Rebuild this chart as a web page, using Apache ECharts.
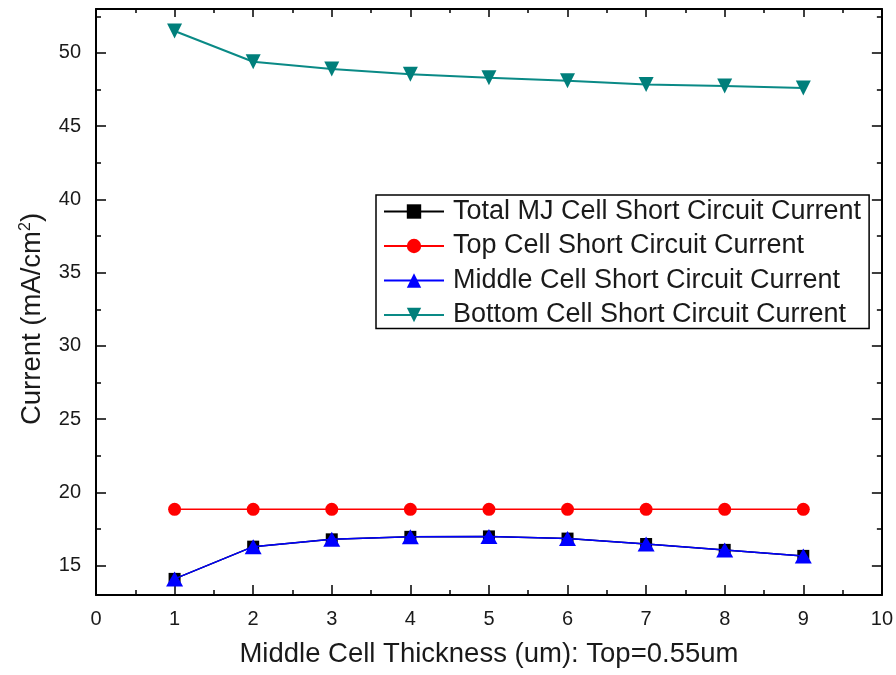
<!DOCTYPE html>
<html>
<head>
<meta charset="utf-8">
<title>Short circuit current vs middle cell thickness</title>
<script src="https://cdn.jsdelivr.net/npm/echarts@6/dist/echarts.min.js"></script>
<style>
  html, body { margin: 0; padding: 0; background: #fff; }
  #chart { width: 896px; height: 675px; }
</style>
</head>
<body>
<div id="chart"></div>
<script>
// Middle cell thickness (um)
const thickness = [1, 2, 3, 4, 5, 6, 7, 8, 9];

// Short circuit currents (mA/cm^2)
const totalMJ    = [14.1, 16.3, 16.8, 16.97, 17.0, 16.85, 16.48, 16.08, 15.67];
const topCell    = [18.85, 18.85, 18.85, 18.85, 18.85, 18.85, 18.85, 18.85, 18.85];
const middleCell = [14.1, 16.3, 16.8, 16.97, 17.0, 16.85, 16.48, 16.08, 15.67];
const bottomCell = [51.5, 49.4, 48.9, 48.55, 48.3, 48.1, 47.85, 47.75, 47.6];

// Y axis ticks
const yLabels = [15, 20, 25, 30, 35, 40, 45, 50];
const yMinor  = [15, 17.5, 20, 22.5, 25, 27.5, 30, 32.5, 35, 37.5, 40, 42.5, 45, 47.5, 50, 52.5];

const FONT = "'Liberation Sans', Arial, sans-serif";
const TXT = '#1a1a1a';

const pairs = arr => thickness.map((x, i) => [x, arr[i]]);

const axisLineStyle = { color: '#000', width: 2 };

function yAxisDef(position, withLabels, minorOnly) {
  return {
    type: 'value', min: 13, max: 53, position: position,
    axisLine: { show: !minorOnly, lineStyle: axisLineStyle },
    axisTick: {
      show: true, inside: true,
      length: minorOnly ? 5 : 10,
      customValues: minorOnly ? yMinor : yLabels,
      lineStyle: { color: '#000', width: 1.5 }
    },
    axisLabel: withLabels ? {
      show: true, customValues: yLabels, margin: 15,
      fontSize: 20, fontFamily: FONT, color: TXT
    } : { show: false },
    splitLine: { show: false }
  };
}

const chart = echarts.init(document.getElementById('chart'), null, { renderer: 'canvas' });

const yLeft = yAxisDef('left', true, false);
yLeft.name = 'Current (mA/cm{sup|2})';
yLeft.nameLocation = 'middle';
yLeft.nameGap = 50;
yLeft.nameTextStyle = {
  fontSize: 27.5, fontFamily: FONT, color: TXT,
  padding: [0, 34, 0, 0],
  rich: { sup: { fontSize: 16, fontFamily: FONT, color: TXT, verticalAlign: 'top', padding: [0, 0, 12, 0] } }
};

const xBase = {
  type: 'value', min: 0, max: 10, interval: 1,
  axisLine: { show: true, lineStyle: axisLineStyle },
  axisTick: { show: true, inside: true, length: 10, lineStyle: { color: '#000', width: 1.5 } },
  minorTick: { show: true, splitNumber: 2, length: 5, lineStyle: { color: '#000', width: 1.5 } },
  splitLine: { show: false },
  minorSplitLine: { show: false }
};

const option = {
  backgroundColor: '#fff',
  animation: false,
  grid: { left: 96, right: 13, top: 9, bottom: 80, containLabel: false },
  legend: {
    orient: 'vertical',
    left: 376, top: 195,
    padding: [3, 8, 0, 7],
    itemGap: 7.5,
    itemWidth: 60,
    itemHeight: 18,
    backgroundColor: '#fff',
    borderColor: '#000',
    borderWidth: 1.5,
    borderRadius: 0,
    textStyle: { fontSize: 27, fontFamily: FONT, color: TXT, lineHeight: 26, padding: [0, 0, 0, 4] },
    data: [
      'Total MJ Cell Short Circuit Current',
      'Top Cell Short Circuit Current',
      'Middle Cell Short Circuit Current',
      'Bottom Cell Short Circuit Current'
    ]
  },
  xAxis: [
    Object.assign({}, xBase, {
      position: 'bottom',
      axisLabel: { show: true, margin: 14, fontSize: 20, fontFamily: FONT, color: TXT },
      name: 'Middle Cell Thickness (um): Top=0.55um',
      nameLocation: 'middle',
      nameGap: 45,
      nameTextStyle: { fontSize: 27.5, fontFamily: FONT, color: TXT }
    }),
    Object.assign({}, xBase, {
      position: 'top',
      axisTick: { show: true, inside: true, length: 8, lineStyle: { color: '#000', width: 1.5 } },
      minorTick: { show: true, splitNumber: 2, length: 4, lineStyle: { color: '#000', width: 1.5 } },
      axisLabel: { show: false }
    })
  ],
  yAxis: [
    yLeft,
    yAxisDef('left', false, true),
    yAxisDef('right', false, false),
    yAxisDef('right', false, true)
  ],
  series: [
    {
      name: 'Total MJ Cell Short Circuit Current',
      type: 'line', data: pairs(totalMJ),
      symbol: 'rect', symbolSize: 12,
      lineStyle: { color: '#000', width: 1.5 },
      itemStyle: { color: '#000' },
      z: 2
    },
    {
      name: 'Top Cell Short Circuit Current',
      type: 'line', data: pairs(topCell),
      symbol: 'circle', symbolSize: 13,
      lineStyle: { color: '#ff0000', width: 1.5 },
      itemStyle: { color: '#ff0000' },
      z: 3
    },
    {
      name: 'Middle Cell Short Circuit Current',
      type: 'line', data: pairs(middleCell),
      symbol: 'triangle', symbolSize: [17, 15],
      lineStyle: { color: '#0000ff', width: 1.5 },
      itemStyle: { color: '#0000ff' },
      z: 4
    },
    {
      name: 'Bottom Cell Short Circuit Current',
      type: 'line', data: pairs(bottomCell),
      symbol: 'triangle', symbolRotate: 180, symbolSize: [15, 15],
      lineStyle: { color: '#0a8a86', width: 2 },
      itemStyle: { color: '#007f7b' },
      z: 5
    }
  ]
};

chart.setOption(option);
</script>
</body>
</html>
